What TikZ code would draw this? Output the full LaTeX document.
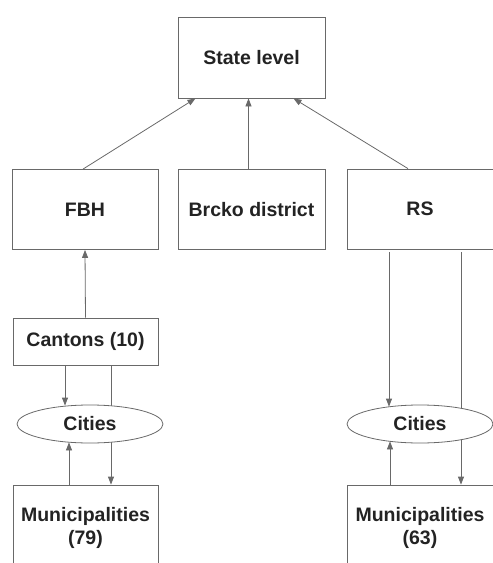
\documentclass[tikz,border=0pt]{standalone}
\usepackage{fontspec}
\setmainfont{Liberation Sans}
\usepackage{tikz}
\usetikzlibrary{arrows.meta}
\usetikzlibrary{shapes.geometric}
\definecolor{ln}{RGB}{105, 105, 105}
\definecolor{tx}{RGB}{35, 35, 35}

\begin{document}
\begin{tikzpicture}[
box/.style={rectangle, draw=ln, line width=0.8pt, fill=white, text=tx, inner sep=0pt, align=center, font=\fontsize{19.5}{23}\selectfont\bfseries},
oval/.style={ellipse, draw=ln, line width=0.8pt, fill=white, text=tx, inner sep=0pt, minimum width=146pt, minimum height=38pt, font=\fontsize{19.5}{23}\selectfont\bfseries},
link/.style={line width=0.8pt, color=ln},
tip/.style={link, -{Triangle[length=8pt, width=6pt]}}]
\useasboundingbox (0pt, 0pt) rectangle (493pt, -563pt);
\node (state) [box, minimum width=147pt, minimum height=81pt] at (251.5pt, -57.5pt) {State level};
\node (fbh) [box, minimum width=146pt, minimum height=80pt] at (85pt, -209.5pt) {FBH};
\node (brcko) [box, minimum width=147pt, minimum height=80pt] at (251.5pt, -209.5pt) {Brcko district};
\node (rs) [box, minimum width=146pt, minimum height=80pt] at (420pt, -209pt) {RS};
\node (cantons) [box, minimum width=145pt, minimum height=47pt] at (85.5pt, -341.5pt) {Cantons (10)};
\node (mun1) [box, minimum width=145pt, minimum height=86pt] at (85.5pt, -528pt) {Municipalities\\(79)};
\node (mun2) [box, minimum width=146pt, minimum height=86pt] at (420pt, -528pt) {Municipalities\\(63)};
% up to state level
\draw [tip] ([xshift=-2pt]fbh.north) to ([xshift=-56pt]state.south);
\draw [tip] ([xshift=-3pt]brcko.north) to ([xshift=-3pt]state.south);
\draw [tip] ([xshift=-12pt]rs.north) to ([xshift=42pt]state.south);
\draw [tip] (cantons.north) to (fbh.south);
% lines running behind the cities
\draw [tip] ([xshift=25.5pt]cantons.south) to ([xshift=25.5pt]mun1.north);
\draw [tip, shorten <=3pt] ([xshift=41pt]rs.south) to ([xshift=41pt]mun2.north);
\node (cities1) [oval] at (90pt, -424pt) {Cities};
\node (cities2) [oval] at (420pt, -424pt) {Cities};
\draw [tip] ([xshift=-20.5pt]cantons.south) to ([xshift=-20.5pt, yshift=-1pt]cantons.south |- cities1.north);
\draw [tip] ([xshift=-16.5pt]mun1.north) to ([xshift=-16.5pt, yshift=1pt]mun1.north |- cities1.south);
\draw [tip, shorten <=3pt] ([xshift=-31pt]rs.south) to ([xshift=-31pt, yshift=-2pt]rs.south |- cities2.north);
\draw [tip] ([xshift=-30pt]mun2.north) to ([xshift=-30pt, yshift=2pt]mun2.north |- cities2.south);
\end{tikzpicture}
\end{document}
